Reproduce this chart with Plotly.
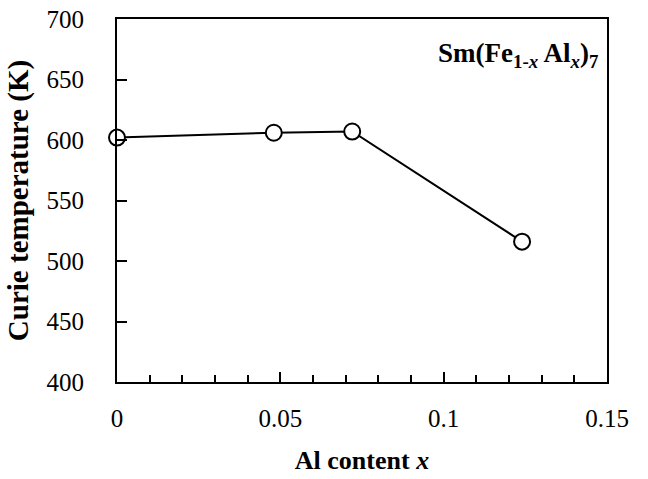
import plotly.graph_objects as go

al_content = [0.0, 0.048, 0.072, 0.124]
curie_temp = [602, 606, 607, 516]

x_ticks = [0, 0.05, 0.1, 0.15]
x_tick_labels = ["0", "0.05", "0.1", "0.15"]
y_ticks = [400, 450, 500, 550, 600, 650, 700]

FONT = "Liberation Serif, Times New Roman, serif"

fig = go.Figure()
fig.add_trace(go.Scatter(
    x=al_content, y=curie_temp, mode="lines+markers",
    line=dict(color="black", width=2),
    marker=dict(symbol="circle", size=16, color="white",
                line=dict(color="black", width=2)),
    cliponaxis=False, showlegend=False,
))

fig.update_layout(
    width=648, height=479,
    margin=dict(l=117, r=41, t=19, b=97, autoexpand=False),
    paper_bgcolor="white", plot_bgcolor="white",
    font=dict(family=FONT, color="black", size=24),
    xaxis=dict(
        range=[0, 0.15], tickvals=x_ticks, ticktext=x_tick_labels,
        ticks="inside", ticklen=10, tickwidth=1.5, tickcolor="black",
        minor=dict(dtick=0.01, tick0=0, ticks="inside", ticklen=7,
                   tickwidth=1.5, tickcolor="black", showgrid=False),
        showline=True, linecolor="black", linewidth=2, mirror=True,
        showgrid=False, zeroline=False, automargin=False,
        ticklabelstandoff=13,
        tickfont=dict(family=FONT, size=25),
        title=dict(text="<b>Al content <i>x</i></b>", standoff=20,
                   font=dict(family=FONT, size=26)),
    ),
    yaxis=dict(
        range=[400, 700], tickvals=y_ticks,
        ticks="inside", ticklen=10, tickwidth=1.5, tickcolor="black",
        showline=True, linecolor="black", linewidth=2, mirror=True,
        showgrid=False, zeroline=False, automargin=False,
        ticklabelstandoff=26,
        tickfont=dict(family=FONT, size=25),
        title=dict(text="<b>Curie temperature (K)</b>", standoff=9,
                   font=dict(family=FONT, size=29)),
    ),
)

fig.add_annotation(
    text="<b>Sm(Fe<sub>1-<i>x</i></sub> Al<sub><i>x</i></sub>)<sub>7</sub></b>",
    xref="paper", yref="paper", x=0.985, y=0.9,
    xanchor="right", yanchor="middle", showarrow=False,
    font=dict(family=FONT, size=27, color="black"),
)

fig.write_html("out.html")
